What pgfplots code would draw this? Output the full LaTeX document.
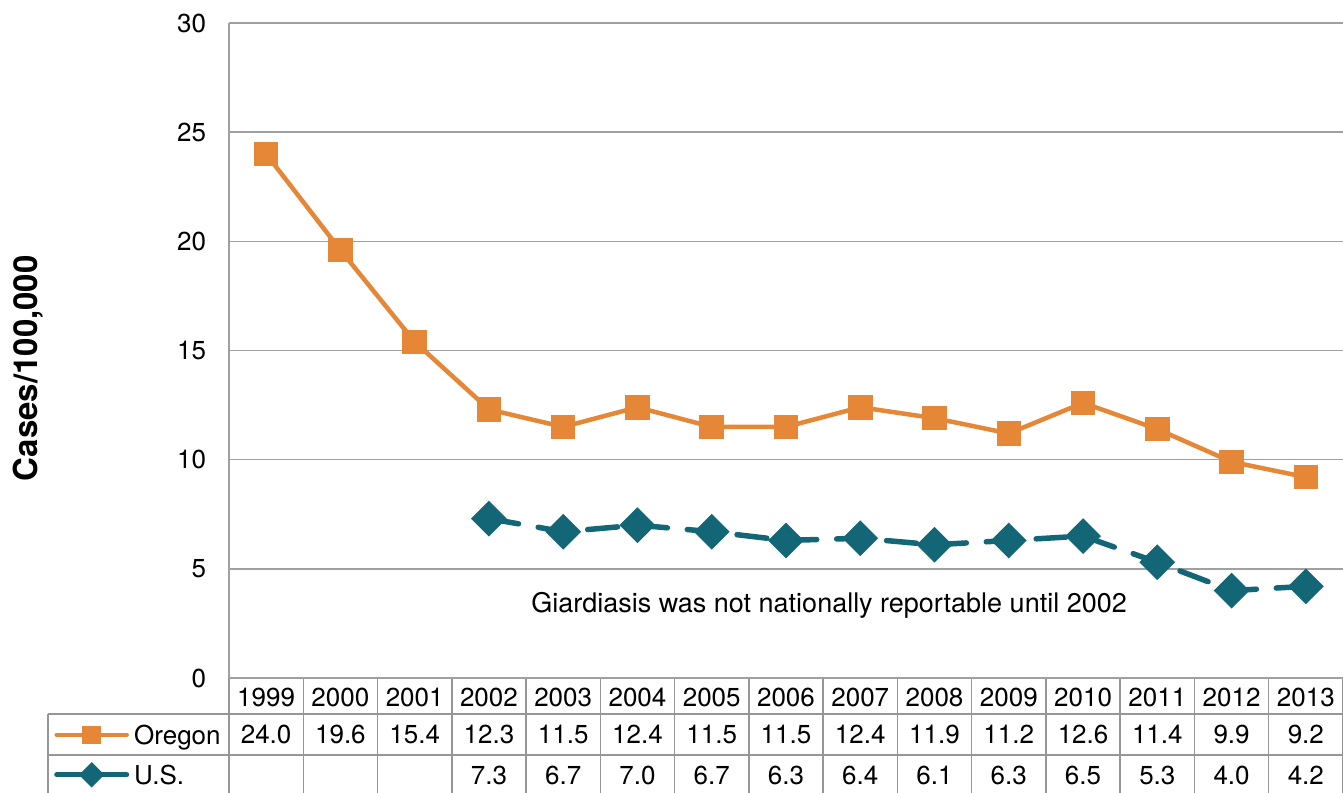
\documentclass[border=0pt]{standalone}
\usepackage{pgfplots}
\pgfplotsset{compat=1.18}
\usepackage{pgfplotstable}
\usepackage{fontspec}
\setmainfont{TeX Gyre Heros}
\definecolor{ore}{RGB}{229,135,55}
\definecolor{usc}{RGB}{19,102,118}
\definecolor{gridc}{RGB}{160,160,160}
\definecolor{tabc}{RGB}{150,150,150}

\pgfplotstableread{
x v
0 24.0
1 19.6
2 15.4
3 12.3
4 11.5
5 12.4
6 11.5
7 11.5
8 12.4
9 11.9
10 11.2
11 12.6
12 11.4
13 9.9
14 9.2
}\oregon

\pgfplotstableread{
x v
3 7.3
4 6.7
5 7.0
6 6.7
7 6.3
8 6.4
9 6.1
10 6.3
11 6.5
12 5.3
13 4.0
14 4.2
}\us

\begin{document}
\fontsize{26bp}{31bp}\selectfont
\begin{tikzpicture}
\begin{scope}[draw=tabc, line width=1.5bp]
\draw (48bp,79bp) -- (1343bp,79bp);
\draw (48bp,38bp) -- (1343bp,38bp);
\draw (48bp,79bp) -- (48bp,-5bp);
\foreach \k in {0,...,15} \draw ({(229+74.2667*\k)*1bp},115bp) -- ({(229+74.2667*\k)*1bp},-5bp);
\end{scope}
\begin{axis}[
 at={(229bp,115bp)}, anchor=south west,
 scale only axis, width=1114bp, height=655bp,
 xmin=-0.5, xmax=14.5, ymin=0, ymax=30,
 ytick={0,5,...,30},
 xtick={0,...,14},
 xticklabels={1999,2000,2001,2002,2003,2004,2005,2006,2007,2008,2009,2010,2011,2012,2013},
 major tick length=0pt,
 axis x line*=bottom, axis y line*=left,
 axis line style={draw=gridc, line width=1.5bp},
 ymajorgrids, grid style={draw=gridc, line width=1.5bp},
 clip=false,
 /pgf/number format/assume math mode=true,
 yticklabel style={xshift=-14bp},
 xticklabel style={anchor=center, yshift=-19bp},
 ylabel={Cases/100,000},
 every axis y label/.style={at={(axis description cs:-0.1804,0.473)}, rotate=90, anchor=center, font=\fontsize{33bp}{38bp}\selectfont\bfseries},
 legend image code/.code={\draw[#1, mark repeat=2, mark phase=2] plot coordinates {(0bp,9.4bp) (35bp,9.4bp) (70bp,9.4bp)};},
 legend style={at={(0,0)}, anchor=north west, xshift=-175bp, yshift=-47bp, draw=none, fill=none, inner sep=0pt, row sep=15bp, nodes={inner sep=0pt, text height=19bp, text depth=6bp, anchor=base west}, /tikz/every odd column/.append style={column sep=5bp}},
]
\addplot[ore, line width=4.5bp, mark=square*, mark size=10bp, mark options={solid}, forget plot] table[x=x, y=v] {\oregon};
\addplot[usc, line width=5.5bp, line cap=round, dash pattern=on 30bp off 20bp, mark=square*, mark size=9.9bp, mark options={solid, rotate=45}, forget plot] table[x=x, y=v] {\us};
\addplot[draw=none, mark=none, forget plot, point meta=\thisrow{v}, nodes near coords={\pgfmathprintnumber[fixed,fixed zerofill,precision=1]{\pgfplotspointmeta}}, nodes near coords style={anchor=center, text=black}] table[x=x, y expr=-2.588] {\oregon};
\addplot[draw=none, mark=none, forget plot, point meta=\thisrow{v}, nodes near coords={\pgfmathprintnumber[fixed,fixed zerofill,precision=1]{\pgfplotspointmeta}}, nodes near coords style={anchor=center, text=black}] table[x=x, y expr=-4.443] {\us};
\addlegendimage{ore, line width=4.5bp, line cap=round, mark=square*, mark size=7bp}
\addlegendentry{Oregon}
\addlegendimage{usc, line width=5bp, line cap=round, mark=square*, mark size=6.5bp, mark options={rotate=45}}
\addlegendentry{U.S.}
\node[font=\fontsize{27bp}{32bp}\selectfont] at (axis cs:7.58,3.34) {Giardiasis was not nationally reportable until 2002};
\end{axis}
\pgfresetboundingbox
\useasboundingbox (0,0) rectangle (1343bp,793bp);
\end{tikzpicture}
\end{document}
